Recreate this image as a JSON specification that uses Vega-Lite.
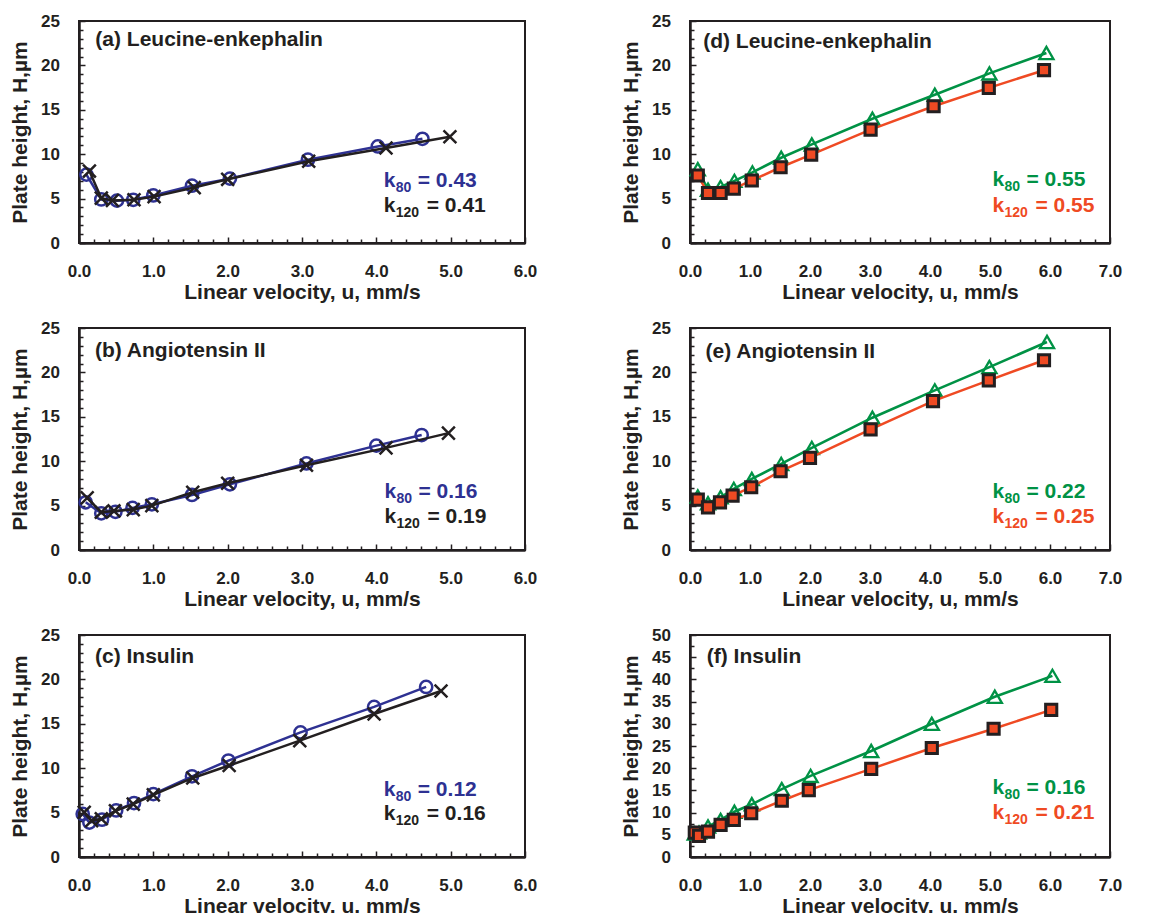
{
  "$schema": "https://vega.github.io/schema/vega-lite/v6.json",
  "background": "white",
  "padding": {"left": 8, "top": 11, "right": 5, "bottom": 5},
  "datasets": {
    "points": [
      {"panel": "a", "series": "80", "u": 0.10, "H": 7.7},
      {"panel": "a", "series": "80", "u": 0.30, "H": 4.9},
      {"panel": "a", "series": "80", "u": 0.51, "H": 4.77},
      {"panel": "a", "series": "80", "u": 0.73, "H": 4.87},
      {"panel": "a", "series": "80", "u": 1.00, "H": 5.35},
      {"panel": "a", "series": "80", "u": 1.52, "H": 6.45},
      {"panel": "a", "series": "80", "u": 2.03, "H": 7.25},
      {"panel": "a", "series": "80", "u": 3.08, "H": 9.38},
      {"panel": "a", "series": "80", "u": 4.02, "H": 10.87},
      {"panel": "a", "series": "80", "u": 4.62, "H": 11.73},
      {"panel": "a", "series": "120", "u": 0.14, "H": 8.1},
      {"panel": "a", "series": "120", "u": 0.30, "H": 5.05},
      {"panel": "a", "series": "120", "u": 0.45, "H": 4.8},
      {"panel": "a", "series": "120", "u": 0.74, "H": 4.87},
      {"panel": "a", "series": "120", "u": 1.01, "H": 5.22},
      {"panel": "a", "series": "120", "u": 1.55, "H": 6.24},
      {"panel": "a", "series": "120", "u": 2.00, "H": 7.17},
      {"panel": "a", "series": "120", "u": 3.09, "H": 9.2},
      {"panel": "a", "series": "120", "u": 4.13, "H": 10.7},
      {"panel": "a", "series": "120", "u": 4.99, "H": 11.96},

      {"panel": "b", "series": "80", "u": 0.09, "H": 5.37},
      {"panel": "b", "series": "80", "u": 0.30, "H": 4.13},
      {"panel": "b", "series": "80", "u": 0.49, "H": 4.3},
      {"panel": "b", "series": "80", "u": 0.72, "H": 4.74},
      {"panel": "b", "series": "80", "u": 0.98, "H": 5.15},
      {"panel": "b", "series": "80", "u": 1.52, "H": 6.2},
      {"panel": "b", "series": "80", "u": 2.03, "H": 7.4},
      {"panel": "b", "series": "80", "u": 3.06, "H": 9.75},
      {"panel": "b", "series": "80", "u": 4.00, "H": 11.75},
      {"panel": "b", "series": "80", "u": 4.61, "H": 12.95},
      {"panel": "b", "series": "120", "u": 0.11, "H": 5.87},
      {"panel": "b", "series": "120", "u": 0.30, "H": 4.25},
      {"panel": "b", "series": "120", "u": 0.47, "H": 4.4},
      {"panel": "b", "series": "120", "u": 0.73, "H": 4.55},
      {"panel": "b", "series": "120", "u": 0.98, "H": 5.0},
      {"panel": "b", "series": "120", "u": 1.53, "H": 6.5},
      {"panel": "b", "series": "120", "u": 2.00, "H": 7.52},
      {"panel": "b", "series": "120", "u": 3.06, "H": 9.55},
      {"panel": "b", "series": "120", "u": 4.13, "H": 11.5},
      {"panel": "b", "series": "120", "u": 4.97, "H": 13.16},

      {"panel": "c", "series": "80", "u": 0.05, "H": 4.85},
      {"panel": "c", "series": "80", "u": 0.14, "H": 3.88},
      {"panel": "c", "series": "80", "u": 0.31, "H": 4.2},
      {"panel": "c", "series": "80", "u": 0.50, "H": 5.24},
      {"panel": "c", "series": "80", "u": 0.74, "H": 6.08},
      {"panel": "c", "series": "80", "u": 1.00, "H": 7.08},
      {"panel": "c", "series": "80", "u": 1.52, "H": 9.09},
      {"panel": "c", "series": "80", "u": 2.01, "H": 10.86},
      {"panel": "c", "series": "80", "u": 2.98, "H": 14.03},
      {"panel": "c", "series": "80", "u": 3.97, "H": 16.9},
      {"panel": "c", "series": "80", "u": 4.67, "H": 19.15},
      {"panel": "c", "series": "120", "u": 0.07, "H": 5.03},
      {"panel": "c", "series": "120", "u": 0.17, "H": 4.08},
      {"panel": "c", "series": "120", "u": 0.30, "H": 4.3},
      {"panel": "c", "series": "120", "u": 0.49, "H": 5.2},
      {"panel": "c", "series": "120", "u": 0.73, "H": 5.95},
      {"panel": "c", "series": "120", "u": 1.00, "H": 7.0},
      {"panel": "c", "series": "120", "u": 1.53, "H": 8.9},
      {"panel": "c", "series": "120", "u": 2.02, "H": 10.3},
      {"panel": "c", "series": "120", "u": 2.97, "H": 13.1},
      {"panel": "c", "series": "120", "u": 3.97, "H": 16.1},
      {"panel": "c", "series": "120", "u": 4.87, "H": 18.7},

      {"panel": "d", "series": "80", "u": 0.13, "H": 8.3},
      {"panel": "d", "series": "80", "u": 0.30, "H": 6.0},
      {"panel": "d", "series": "80", "u": 0.51, "H": 6.3},
      {"panel": "d", "series": "80", "u": 0.74, "H": 7.0},
      {"panel": "d", "series": "80", "u": 1.04, "H": 7.95},
      {"panel": "d", "series": "80", "u": 1.52, "H": 9.6},
      {"panel": "d", "series": "80", "u": 2.03, "H": 11.1},
      {"panel": "d", "series": "80", "u": 3.04, "H": 14.0},
      {"panel": "d", "series": "80", "u": 4.08, "H": 16.7},
      {"panel": "d", "series": "80", "u": 4.99, "H": 19.1},
      {"panel": "d", "series": "80", "u": 5.94, "H": 21.4},
      {"panel": "d", "series": "120", "u": 0.13, "H": 7.6},
      {"panel": "d", "series": "120", "u": 0.30, "H": 5.63},
      {"panel": "d", "series": "120", "u": 0.51, "H": 5.63},
      {"panel": "d", "series": "120", "u": 0.73, "H": 6.12},
      {"panel": "d", "series": "120", "u": 1.03, "H": 7.04},
      {"panel": "d", "series": "120", "u": 1.51, "H": 8.53},
      {"panel": "d", "series": "120", "u": 2.02, "H": 9.96},
      {"panel": "d", "series": "120", "u": 3.01, "H": 12.77},
      {"panel": "d", "series": "120", "u": 4.06, "H": 15.4},
      {"panel": "d", "series": "120", "u": 4.98, "H": 17.47},
      {"panel": "d", "series": "120", "u": 5.90, "H": 19.46},

      {"panel": "e", "series": "80", "u": 0.13, "H": 6.02},
      {"panel": "e", "series": "80", "u": 0.30, "H": 5.26},
      {"panel": "e", "series": "80", "u": 0.51, "H": 5.94},
      {"panel": "e", "series": "80", "u": 0.73, "H": 6.88},
      {"panel": "e", "series": "80", "u": 1.03, "H": 8.0},
      {"panel": "e", "series": "80", "u": 1.52, "H": 9.7},
      {"panel": "e", "series": "80", "u": 2.03, "H": 11.5},
      {"panel": "e", "series": "80", "u": 3.04, "H": 14.9},
      {"panel": "e", "series": "80", "u": 4.08, "H": 17.98},
      {"panel": "e", "series": "80", "u": 4.99, "H": 20.6},
      {"panel": "e", "series": "80", "u": 5.95, "H": 23.43},
      {"panel": "e", "series": "120", "u": 0.13, "H": 5.68},
      {"panel": "e", "series": "120", "u": 0.30, "H": 4.81},
      {"panel": "e", "series": "120", "u": 0.50, "H": 5.37},
      {"panel": "e", "series": "120", "u": 0.71, "H": 6.13},
      {"panel": "e", "series": "120", "u": 1.02, "H": 7.07},
      {"panel": "e", "series": "120", "u": 1.51, "H": 8.87},
      {"panel": "e", "series": "120", "u": 2.00, "H": 10.38},
      {"panel": "e", "series": "120", "u": 3.01, "H": 13.58},
      {"panel": "e", "series": "120", "u": 4.05, "H": 16.77},
      {"panel": "e", "series": "120", "u": 4.98, "H": 19.11},
      {"panel": "e", "series": "120", "u": 5.90, "H": 21.37},

      {"panel": "f", "series": "80", "u": 0.08, "H": 5.3},
      {"panel": "f", "series": "80", "u": 0.15, "H": 5.5},
      {"panel": "f", "series": "80", "u": 0.30, "H": 6.86},
      {"panel": "f", "series": "80", "u": 0.51, "H": 8.35},
      {"panel": "f", "series": "80", "u": 0.74, "H": 10.2},
      {"panel": "f", "series": "80", "u": 1.03, "H": 11.87},
      {"panel": "f", "series": "80", "u": 1.53, "H": 15.3},
      {"panel": "f", "series": "80", "u": 2.01, "H": 18.27},
      {"panel": "f", "series": "80", "u": 3.02, "H": 23.87},
      {"panel": "f", "series": "80", "u": 4.03, "H": 30.0},
      {"panel": "f", "series": "80", "u": 5.08, "H": 36.1},
      {"panel": "f", "series": "80", "u": 6.04, "H": 40.8},
      {"panel": "f", "series": "120", "u": 0.08, "H": 5.5},
      {"panel": "f", "series": "120", "u": 0.15, "H": 4.77},
      {"panel": "f", "series": "120", "u": 0.30, "H": 5.73},
      {"panel": "f", "series": "120", "u": 0.51, "H": 7.23},
      {"panel": "f", "series": "120", "u": 0.73, "H": 8.35},
      {"panel": "f", "series": "120", "u": 1.02, "H": 9.85},
      {"panel": "f", "series": "120", "u": 1.53, "H": 12.67},
      {"panel": "f", "series": "120", "u": 1.98, "H": 15.07},
      {"panel": "f", "series": "120", "u": 3.02, "H": 19.85},
      {"panel": "f", "series": "120", "u": 4.03, "H": 24.55},
      {"panel": "f", "series": "120", "u": 5.06, "H": 28.88},
      {"panel": "f", "series": "120", "u": 6.02, "H": 33.13}
    ],
    "notes": [
      {"panel": "a", "series": "80", "u": 4.1, "H": 6.34, "sub": "80", "val": "= 0.43"},
      {"panel": "a", "series": "120", "u": 4.1, "H": 3.47, "sub": "120", "val": "= 0.41"},
      {"panel": "b", "series": "80", "u": 4.11, "H": 5.87, "sub": "80", "val": "= 0.16"},
      {"panel": "b", "series": "120", "u": 4.11, "H": 3.0, "sub": "120", "val": "= 0.19"},
      {"panel": "c", "series": "80", "u": 4.1, "H": 6.92, "sub": "80", "val": "= 0.12"},
      {"panel": "c", "series": "120", "u": 4.1, "H": 4.12, "sub": "120", "val": "= 0.16"},
      {"panel": "d", "series": "80", "u": 5.04, "H": 6.38, "sub": "80", "val": "= 0.55"},
      {"panel": "d", "series": "120", "u": 5.04, "H": 3.5, "sub": "120", "val": "= 0.55"},
      {"panel": "e", "series": "80", "u": 5.04, "H": 5.87, "sub": "80", "val": "= 0.22"},
      {"panel": "e", "series": "120", "u": 5.04, "H": 3.0, "sub": "120", "val": "= 0.25"},
      {"panel": "f", "series": "80", "u": 5.04, "H": 14.3, "sub": "80", "val": "= 0.16"},
      {"panel": "f", "series": "120", "u": 5.04, "H": 8.5, "sub": "120", "val": "= 0.21"}
    ]
  },
  "bounds": "flush",
  "columns": 2,
  "spacing": {"row": 85, "column": 165},
  "concat": [
    {
      "width": 446, "height": 222,
      "resolve": {"axis": {"x": "independent", "y": "independent"}},
      "layer": [
        {
          "data": {"name": "points"},
          "transform": [{"filter": "datum.panel === 'a'"}],
          "mark": {"type": "point", "opacity": 0},
          "encoding": {
            "x": {"field": "u", "type": "quantitative", "scale": {"domain": [0, 6], "nice": false, "zero": false},
                  "axis": {"orient": "bottom", "values": [0.2,0.4,0.6,0.8,1.2,1.4,1.6,1.8,2.2,2.4,2.6,2.8,3.2,3.4,3.6,3.8,4.2,4.4,4.6,4.8,5.2,5.4,5.6,5.8], "labels": false, "domain": false, "tickSize": -4, "title": null}},
            "y": {"field": "H", "type": "quantitative", "scale": {"domain": [0, 25], "nice": false, "zero": false},
                  "axis": {"orient": "left", "values": [1,2,3,4,6,7,8,9,11,12,13,14,16,17,18,19,21,22,23,24], "labels": false, "domain": false, "tickSize": -4, "title": null}}
          }
        },
        {
          "data": {"name": "points"},
          "transform": [{"filter": "datum.panel === 'a' && datum.series === '80'"}],
          "mark": {"type": "line", "color": "#2E3192", "strokeWidth": 2.5},
          "encoding": {
            "x": {"field": "u", "type": "quantitative", "axis": {"orient": "bottom", "values": [0,1,2,3,4,5,6], "format": ".1f", "tickSize": -6, "labelPadding": 26, "title": "Linear velocity, u, mm/s", "titlePadding": 2}},
            "y": {"field": "H", "type": "quantitative", "axis": {"orient": "left", "values": [0,5,10,15,20,25], "format": "d", "tickSize": -6, "labelPadding": 25.5, "title": "Plate height, H,µm", "titlePadding": 10}}
          }
        },
        {
          "data": {"name": "points"},
          "transform": [{"filter": "datum.panel === 'a' && datum.series === '80'"}],
          "mark": {"type": "point", "shape": "circle", "size": 150, "filled": false, "color": "#2E3192", "strokeWidth": 2.5, "opacity": 1},
          "encoding": {"x": {"field": "u", "type": "quantitative", "axis": null}, "y": {"field": "H", "type": "quantitative", "axis": null}}
        },
        {
          "data": {"name": "points"},
          "transform": [{"filter": "datum.panel === 'a' && datum.series === '120'"}],
          "mark": {"type": "line", "color": "#231F20", "strokeWidth": 2.5},
          "encoding": {"x": {"field": "u", "type": "quantitative", "axis": null}, "y": {"field": "H", "type": "quantitative", "axis": null}}
        },
        {
          "data": {"name": "points"},
          "transform": [{"filter": "datum.panel === 'a' && datum.series === '120'"}],
          "mark": {"type": "point", "shape": "M-1,-1L1,1M-1,1L1,-1", "size": 165, "filled": false, "color": "#231F20", "strokeWidth": 2.5, "opacity": 1},
          "encoding": {"x": {"field": "u", "type": "quantitative", "axis": null}, "y": {"field": "H", "type": "quantitative", "axis": null}}
        },
        {
          "data": {"values": [{}]},
          "mark": {"type": "text", "text": "(a) Leucine-enkephalin", "align": "left", "baseline": "alphabetic", "fontSize": 21, "color": "#231F20"},
          "encoding": {"x": {"datum": 0.22, "type": "quantitative", "axis": null}, "y": {"datum": 22.2, "type": "quantitative", "axis": null}}
        },
        {
          "data": {"name": "notes"},
          "transform": [{"filter": "datum.panel === 'a'"}],
          "mark": {"type": "text", "text": "k", "align": "left", "baseline": "alphabetic", "fontSize": 21},
          "encoding": {"x": {"field": "u", "type": "quantitative", "axis": null}, "y": {"field": "H", "type": "quantitative", "axis": null},
                       "color": {"condition": {"test": "datum.series === '80'", "value": "#2E3192"}, "value": "#231F20"}}
        },
        {
          "data": {"name": "notes"},
          "transform": [{"filter": "datum.panel === 'a'"}],
          "mark": {"type": "text", "align": "left", "baseline": "alphabetic", "fontSize": 14, "dx": 12, "dy": 5},
          "encoding": {"x": {"field": "u", "type": "quantitative", "axis": null}, "y": {"field": "H", "type": "quantitative", "axis": null}, "text": {"field": "sub"},
                       "color": {"condition": {"test": "datum.series === '80'", "value": "#2E3192"}, "value": "#231F20"}}
        },
        {
          "data": {"name": "notes"},
          "transform": [{"filter": "datum.panel === 'a' && datum.series === '80'"}],
          "mark": {"type": "text", "align": "left", "baseline": "alphabetic", "fontSize": 21, "dx": 34, "color": "#2E3192"},
          "encoding": {"x": {"field": "u", "type": "quantitative", "axis": null}, "y": {"field": "H", "type": "quantitative", "axis": null}, "text": {"field": "val"}}
        },
        {
          "data": {"name": "notes"},
          "transform": [{"filter": "datum.panel === 'a' && datum.series === '120'"}],
          "mark": {"type": "text", "align": "left", "baseline": "alphabetic", "fontSize": 21, "dx": 43, "color": "#231F20"},
          "encoding": {"x": {"field": "u", "type": "quantitative", "axis": null}, "y": {"field": "H", "type": "quantitative", "axis": null}, "text": {"field": "val"}}
        }
      ]
    },
    {
      "width": 420, "height": 222,
      "resolve": {"axis": {"x": "independent", "y": "independent"}},
      "layer": [
        {
          "data": {"name": "points"},
          "transform": [{"filter": "datum.panel === 'd'"}],
          "mark": {"type": "point", "opacity": 0},
          "encoding": {
            "x": {"field": "u", "type": "quantitative", "scale": {"domain": [0, 7], "nice": false, "zero": false},
                  "axis": {"orient": "bottom", "values": [0.25,0.5,0.75,1.25,1.5,1.75,2.25,2.5,2.75,3.25,3.5,3.75,4.25,4.5,4.75,5.25,5.5,5.75,6.25,6.5,6.75], "labels": false, "domain": false, "tickSize": -4, "title": null}},
            "y": {"field": "H", "type": "quantitative", "scale": {"domain": [0, 25], "nice": false, "zero": false},
                  "axis": {"orient": "left", "values": [1,2,3,4,6,7,8,9,11,12,13,14,16,17,18,19,21,22,23,24], "labels": false, "domain": false, "tickSize": -4, "title": null}}
          }
        },
        {
          "data": {"name": "points"},
          "transform": [{"filter": "datum.panel === 'd' && datum.series === '80'"}],
          "mark": {"type": "line", "color": "#009245", "strokeWidth": 2.6},
          "encoding": {
            "x": {"field": "u", "type": "quantitative", "axis": {"orient": "bottom", "values": [0,1,2,3,4,5,6,7], "format": ".1f", "tickSize": -6, "labelPadding": 26, "title": "Linear velocity, u, mm/s", "titlePadding": 2}},
            "y": {"field": "H", "type": "quantitative", "axis": {"orient": "left", "values": [0,5,10,15,20,25], "format": "d", "tickSize": -6, "labelPadding": 25.5, "title": "Plate height, H,µm", "titlePadding": 10}}
          }
        },
        {
          "data": {"name": "points"},
          "transform": [{"filter": "datum.panel === 'd' && datum.series === '80'"}],
          "mark": {"type": "point", "shape": "triangle-up", "size": 200, "filled": false, "color": "#009245", "strokeWidth": 2.3, "opacity": 1},
          "encoding": {"x": {"field": "u", "type": "quantitative", "axis": null}, "y": {"field": "H", "type": "quantitative", "axis": null}}
        },
        {
          "data": {"name": "points"},
          "transform": [{"filter": "datum.panel === 'd' && datum.series === '120'"}],
          "mark": {"type": "line", "color": "#EF4A23", "strokeWidth": 2.5},
          "encoding": {"x": {"field": "u", "type": "quantitative", "axis": null}, "y": {"field": "H", "type": "quantitative", "axis": null}}
        },
        {
          "data": {"name": "points"},
          "transform": [{"filter": "datum.panel === 'd' && datum.series === '120'"}],
          "mark": {"type": "point", "shape": "square", "size": 125, "filled": true, "fill": "#EF4A23", "stroke": "#231F20", "strokeWidth": 3, "opacity": 1},
          "encoding": {"x": {"field": "u", "type": "quantitative", "axis": null}, "y": {"field": "H", "type": "quantitative", "axis": null}}
        },
        {
          "data": {"values": [{}]},
          "mark": {"type": "text", "text": "(d) Leucine-enkephalin", "align": "left", "baseline": "alphabetic", "fontSize": 21, "color": "#231F20"},
          "encoding": {"x": {"datum": 0.22, "type": "quantitative", "axis": null}, "y": {"datum": 22.0, "type": "quantitative", "axis": null}}
        },
        {
          "data": {"name": "notes"},
          "transform": [{"filter": "datum.panel === 'd'"}],
          "mark": {"type": "text", "text": "k", "align": "left", "baseline": "alphabetic", "fontSize": 21},
          "encoding": {"x": {"field": "u", "type": "quantitative", "axis": null}, "y": {"field": "H", "type": "quantitative", "axis": null},
                       "color": {"condition": {"test": "datum.series === '80'", "value": "#009245"}, "value": "#EF4A23"}}
        },
        {
          "data": {"name": "notes"},
          "transform": [{"filter": "datum.panel === 'd'"}],
          "mark": {"type": "text", "align": "left", "baseline": "alphabetic", "fontSize": 14, "dx": 12, "dy": 5},
          "encoding": {"x": {"field": "u", "type": "quantitative", "axis": null}, "y": {"field": "H", "type": "quantitative", "axis": null}, "text": {"field": "sub"},
                       "color": {"condition": {"test": "datum.series === '80'", "value": "#009245"}, "value": "#EF4A23"}}
        },
        {
          "data": {"name": "notes"},
          "transform": [{"filter": "datum.panel === 'd' && datum.series === '80'"}],
          "mark": {"type": "text", "align": "left", "baseline": "alphabetic", "fontSize": 21, "dx": 34, "color": "#009245"},
          "encoding": {"x": {"field": "u", "type": "quantitative", "axis": null}, "y": {"field": "H", "type": "quantitative", "axis": null}, "text": {"field": "val"}}
        },
        {
          "data": {"name": "notes"},
          "transform": [{"filter": "datum.panel === 'd' && datum.series === '120'"}],
          "mark": {"type": "text", "align": "left", "baseline": "alphabetic", "fontSize": 21, "dx": 43, "color": "#EF4A23"},
          "encoding": {"x": {"field": "u", "type": "quantitative", "axis": null}, "y": {"field": "H", "type": "quantitative", "axis": null}, "text": {"field": "val"}}
        }
      ]
    },
    {
      "width": 446, "height": 222,
      "resolve": {"axis": {"x": "independent", "y": "independent"}},
      "layer": [
        {
          "data": {"name": "points"},
          "transform": [{"filter": "datum.panel === 'b'"}],
          "mark": {"type": "point", "opacity": 0},
          "encoding": {
            "x": {"field": "u", "type": "quantitative", "scale": {"domain": [0, 6], "nice": false, "zero": false},
                  "axis": {"orient": "bottom", "values": [0.2,0.4,0.6,0.8,1.2,1.4,1.6,1.8,2.2,2.4,2.6,2.8,3.2,3.4,3.6,3.8,4.2,4.4,4.6,4.8,5.2,5.4,5.6,5.8], "labels": false, "domain": false, "tickSize": -4, "title": null}},
            "y": {"field": "H", "type": "quantitative", "scale": {"domain": [0, 25], "nice": false, "zero": false},
                  "axis": {"orient": "left", "values": [1,2,3,4,6,7,8,9,11,12,13,14,16,17,18,19,21,22,23,24], "labels": false, "domain": false, "tickSize": -4, "title": null}}
          }
        },
        {
          "data": {"name": "points"},
          "transform": [{"filter": "datum.panel === 'b' && datum.series === '80'"}],
          "mark": {"type": "line", "color": "#2E3192", "strokeWidth": 2.5},
          "encoding": {
            "x": {"field": "u", "type": "quantitative", "axis": {"orient": "bottom", "values": [0,1,2,3,4,5,6], "format": ".1f", "tickSize": -6, "labelPadding": 26, "title": "Linear velocity, u, mm/s", "titlePadding": 2}},
            "y": {"field": "H", "type": "quantitative", "axis": {"orient": "left", "values": [0,5,10,15,20,25], "format": "d", "tickSize": -6, "labelPadding": 25.5, "title": "Plate height, H,µm", "titlePadding": 10}}
          }
        },
        {
          "data": {"name": "points"},
          "transform": [{"filter": "datum.panel === 'b' && datum.series === '80'"}],
          "mark": {"type": "point", "shape": "circle", "size": 150, "filled": false, "color": "#2E3192", "strokeWidth": 2.5, "opacity": 1},
          "encoding": {"x": {"field": "u", "type": "quantitative", "axis": null}, "y": {"field": "H", "type": "quantitative", "axis": null}}
        },
        {
          "data": {"name": "points"},
          "transform": [{"filter": "datum.panel === 'b' && datum.series === '120'"}],
          "mark": {"type": "line", "color": "#231F20", "strokeWidth": 2.5},
          "encoding": {"x": {"field": "u", "type": "quantitative", "axis": null}, "y": {"field": "H", "type": "quantitative", "axis": null}}
        },
        {
          "data": {"name": "points"},
          "transform": [{"filter": "datum.panel === 'b' && datum.series === '120'"}],
          "mark": {"type": "point", "shape": "M-1,-1L1,1M-1,1L1,-1", "size": 165, "filled": false, "color": "#231F20", "strokeWidth": 2.5, "opacity": 1},
          "encoding": {"x": {"field": "u", "type": "quantitative", "axis": null}, "y": {"field": "H", "type": "quantitative", "axis": null}}
        },
        {
          "data": {"values": [{}]},
          "mark": {"type": "text", "text": "(b) Angiotensin II", "align": "left", "baseline": "alphabetic", "fontSize": 21, "color": "#231F20"},
          "encoding": {"x": {"datum": 0.215, "type": "quantitative", "axis": null}, "y": {"datum": 21.75, "type": "quantitative", "axis": null}}
        },
        {
          "data": {"name": "notes"},
          "transform": [{"filter": "datum.panel === 'b'"}],
          "mark": {"type": "text", "text": "k", "align": "left", "baseline": "alphabetic", "fontSize": 21},
          "encoding": {"x": {"field": "u", "type": "quantitative", "axis": null}, "y": {"field": "H", "type": "quantitative", "axis": null},
                       "color": {"condition": {"test": "datum.series === '80'", "value": "#2E3192"}, "value": "#231F20"}}
        },
        {
          "data": {"name": "notes"},
          "transform": [{"filter": "datum.panel === 'b'"}],
          "mark": {"type": "text", "align": "left", "baseline": "alphabetic", "fontSize": 14, "dx": 12, "dy": 5},
          "encoding": {"x": {"field": "u", "type": "quantitative", "axis": null}, "y": {"field": "H", "type": "quantitative", "axis": null}, "text": {"field": "sub"},
                       "color": {"condition": {"test": "datum.series === '80'", "value": "#2E3192"}, "value": "#231F20"}}
        },
        {
          "data": {"name": "notes"},
          "transform": [{"filter": "datum.panel === 'b' && datum.series === '80'"}],
          "mark": {"type": "text", "align": "left", "baseline": "alphabetic", "fontSize": 21, "dx": 34, "color": "#2E3192"},
          "encoding": {"x": {"field": "u", "type": "quantitative", "axis": null}, "y": {"field": "H", "type": "quantitative", "axis": null}, "text": {"field": "val"}}
        },
        {
          "data": {"name": "notes"},
          "transform": [{"filter": "datum.panel === 'b' && datum.series === '120'"}],
          "mark": {"type": "text", "align": "left", "baseline": "alphabetic", "fontSize": 21, "dx": 43, "color": "#231F20"},
          "encoding": {"x": {"field": "u", "type": "quantitative", "axis": null}, "y": {"field": "H", "type": "quantitative", "axis": null}, "text": {"field": "val"}}
        }
      ]
    },
    {
      "width": 420, "height": 222,
      "resolve": {"axis": {"x": "independent", "y": "independent"}},
      "layer": [
        {
          "data": {"name": "points"},
          "transform": [{"filter": "datum.panel === 'e'"}],
          "mark": {"type": "point", "opacity": 0},
          "encoding": {
            "x": {"field": "u", "type": "quantitative", "scale": {"domain": [0, 7], "nice": false, "zero": false},
                  "axis": {"orient": "bottom", "values": [0.25,0.5,0.75,1.25,1.5,1.75,2.25,2.5,2.75,3.25,3.5,3.75,4.25,4.5,4.75,5.25,5.5,5.75,6.25,6.5,6.75], "labels": false, "domain": false, "tickSize": -4, "title": null}},
            "y": {"field": "H", "type": "quantitative", "scale": {"domain": [0, 25], "nice": false, "zero": false},
                  "axis": {"orient": "left", "values": [1,2,3,4,6,7,8,9,11,12,13,14,16,17,18,19,21,22,23,24], "labels": false, "domain": false, "tickSize": -4, "title": null}}
          }
        },
        {
          "data": {"name": "points"},
          "transform": [{"filter": "datum.panel === 'e' && datum.series === '80'"}],
          "mark": {"type": "line", "color": "#009245", "strokeWidth": 2.6},
          "encoding": {
            "x": {"field": "u", "type": "quantitative", "axis": {"orient": "bottom", "values": [0,1,2,3,4,5,6,7], "format": ".1f", "tickSize": -6, "labelPadding": 26, "title": "Linear velocity, u, mm/s", "titlePadding": 2}},
            "y": {"field": "H", "type": "quantitative", "axis": {"orient": "left", "values": [0,5,10,15,20,25], "format": "d", "tickSize": -6, "labelPadding": 25.5, "title": "Plate height, H,µm", "titlePadding": 10}}
          }
        },
        {
          "data": {"name": "points"},
          "transform": [{"filter": "datum.panel === 'e' && datum.series === '80'"}],
          "mark": {"type": "point", "shape": "triangle-up", "size": 200, "filled": false, "color": "#009245", "strokeWidth": 2.3, "opacity": 1},
          "encoding": {"x": {"field": "u", "type": "quantitative", "axis": null}, "y": {"field": "H", "type": "quantitative", "axis": null}}
        },
        {
          "data": {"name": "points"},
          "transform": [{"filter": "datum.panel === 'e' && datum.series === '120'"}],
          "mark": {"type": "line", "color": "#EF4A23", "strokeWidth": 2.5},
          "encoding": {"x": {"field": "u", "type": "quantitative", "axis": null}, "y": {"field": "H", "type": "quantitative", "axis": null}}
        },
        {
          "data": {"name": "points"},
          "transform": [{"filter": "datum.panel === 'e' && datum.series === '120'"}],
          "mark": {"type": "point", "shape": "square", "size": 125, "filled": true, "fill": "#EF4A23", "stroke": "#231F20", "strokeWidth": 3, "opacity": 1},
          "encoding": {"x": {"field": "u", "type": "quantitative", "axis": null}, "y": {"field": "H", "type": "quantitative", "axis": null}}
        },
        {
          "data": {"values": [{}]},
          "mark": {"type": "text", "text": "(e) Angiotensin II", "align": "left", "baseline": "alphabetic", "fontSize": 21, "color": "#231F20"},
          "encoding": {"x": {"datum": 0.26, "type": "quantitative", "axis": null}, "y": {"datum": 21.65, "type": "quantitative", "axis": null}}
        },
        {
          "data": {"name": "notes"},
          "transform": [{"filter": "datum.panel === 'e'"}],
          "mark": {"type": "text", "text": "k", "align": "left", "baseline": "alphabetic", "fontSize": 21},
          "encoding": {"x": {"field": "u", "type": "quantitative", "axis": null}, "y": {"field": "H", "type": "quantitative", "axis": null},
                       "color": {"condition": {"test": "datum.series === '80'", "value": "#009245"}, "value": "#EF4A23"}}
        },
        {
          "data": {"name": "notes"},
          "transform": [{"filter": "datum.panel === 'e'"}],
          "mark": {"type": "text", "align": "left", "baseline": "alphabetic", "fontSize": 14, "dx": 12, "dy": 5},
          "encoding": {"x": {"field": "u", "type": "quantitative", "axis": null}, "y": {"field": "H", "type": "quantitative", "axis": null}, "text": {"field": "sub"},
                       "color": {"condition": {"test": "datum.series === '80'", "value": "#009245"}, "value": "#EF4A23"}}
        },
        {
          "data": {"name": "notes"},
          "transform": [{"filter": "datum.panel === 'e' && datum.series === '80'"}],
          "mark": {"type": "text", "align": "left", "baseline": "alphabetic", "fontSize": 21, "dx": 34, "color": "#009245"},
          "encoding": {"x": {"field": "u", "type": "quantitative", "axis": null}, "y": {"field": "H", "type": "quantitative", "axis": null}, "text": {"field": "val"}}
        },
        {
          "data": {"name": "notes"},
          "transform": [{"filter": "datum.panel === 'e' && datum.series === '120'"}],
          "mark": {"type": "text", "align": "left", "baseline": "alphabetic", "fontSize": 21, "dx": 43, "color": "#EF4A23"},
          "encoding": {"x": {"field": "u", "type": "quantitative", "axis": null}, "y": {"field": "H", "type": "quantitative", "axis": null}, "text": {"field": "val"}}
        }
      ]
    },
    {
      "width": 446, "height": 222,
      "resolve": {"axis": {"x": "independent", "y": "independent"}},
      "layer": [
        {
          "data": {"name": "points"},
          "transform": [{"filter": "datum.panel === 'c'"}],
          "mark": {"type": "point", "opacity": 0},
          "encoding": {
            "x": {"field": "u", "type": "quantitative", "scale": {"domain": [0, 6], "nice": false, "zero": false},
                  "axis": {"orient": "bottom", "values": [0.2,0.4,0.6,0.8,1.2,1.4,1.6,1.8,2.2,2.4,2.6,2.8,3.2,3.4,3.6,3.8,4.2,4.4,4.6,4.8,5.2,5.4,5.6,5.8], "labels": false, "domain": false, "tickSize": -4, "title": null}},
            "y": {"field": "H", "type": "quantitative", "scale": {"domain": [0, 25], "nice": false, "zero": false},
                  "axis": {"orient": "left", "values": [1,2,3,4,6,7,8,9,11,12,13,14,16,17,18,19,21,22,23,24], "labels": false, "domain": false, "tickSize": -4, "title": null}}
          }
        },
        {
          "data": {"name": "points"},
          "transform": [{"filter": "datum.panel === 'c' && datum.series === '80'"}],
          "mark": {"type": "line", "color": "#2E3192", "strokeWidth": 2.5},
          "encoding": {
            "x": {"field": "u", "type": "quantitative", "axis": {"orient": "bottom", "values": [0,1,2,3,4,5,6], "format": ".1f", "tickSize": -6, "labelPadding": 26, "title": "Linear velocity, u, mm/s", "titlePadding": 2}},
            "y": {"field": "H", "type": "quantitative", "axis": {"orient": "left", "values": [0,5,10,15,20,25], "format": "d", "tickSize": -6, "labelPadding": 25.5, "title": "Plate height, H,µm", "titlePadding": 10}}
          }
        },
        {
          "data": {"name": "points"},
          "transform": [{"filter": "datum.panel === 'c' && datum.series === '80'"}],
          "mark": {"type": "point", "shape": "circle", "size": 150, "filled": false, "color": "#2E3192", "strokeWidth": 2.5, "opacity": 1},
          "encoding": {"x": {"field": "u", "type": "quantitative", "axis": null}, "y": {"field": "H", "type": "quantitative", "axis": null}}
        },
        {
          "data": {"name": "points"},
          "transform": [{"filter": "datum.panel === 'c' && datum.series === '120'"}],
          "mark": {"type": "line", "color": "#231F20", "strokeWidth": 2.5},
          "encoding": {"x": {"field": "u", "type": "quantitative", "axis": null}, "y": {"field": "H", "type": "quantitative", "axis": null}}
        },
        {
          "data": {"name": "points"},
          "transform": [{"filter": "datum.panel === 'c' && datum.series === '120'"}],
          "mark": {"type": "point", "shape": "M-1,-1L1,1M-1,1L1,-1", "size": 165, "filled": false, "color": "#231F20", "strokeWidth": 2.5, "opacity": 1},
          "encoding": {"x": {"field": "u", "type": "quantitative", "axis": null}, "y": {"field": "H", "type": "quantitative", "axis": null}}
        },
        {
          "data": {"values": [{}]},
          "mark": {"type": "text", "text": "(c) Insulin", "align": "left", "baseline": "alphabetic", "fontSize": 21, "color": "#231F20"},
          "encoding": {"x": {"datum": 0.215, "type": "quantitative", "axis": null}, "y": {"datum": 21.9, "type": "quantitative", "axis": null}}
        },
        {
          "data": {"name": "notes"},
          "transform": [{"filter": "datum.panel === 'c'"}],
          "mark": {"type": "text", "text": "k", "align": "left", "baseline": "alphabetic", "fontSize": 21},
          "encoding": {"x": {"field": "u", "type": "quantitative", "axis": null}, "y": {"field": "H", "type": "quantitative", "axis": null},
                       "color": {"condition": {"test": "datum.series === '80'", "value": "#2E3192"}, "value": "#231F20"}}
        },
        {
          "data": {"name": "notes"},
          "transform": [{"filter": "datum.panel === 'c'"}],
          "mark": {"type": "text", "align": "left", "baseline": "alphabetic", "fontSize": 14, "dx": 12, "dy": 5},
          "encoding": {"x": {"field": "u", "type": "quantitative", "axis": null}, "y": {"field": "H", "type": "quantitative", "axis": null}, "text": {"field": "sub"},
                       "color": {"condition": {"test": "datum.series === '80'", "value": "#2E3192"}, "value": "#231F20"}}
        },
        {
          "data": {"name": "notes"},
          "transform": [{"filter": "datum.panel === 'c' && datum.series === '80'"}],
          "mark": {"type": "text", "align": "left", "baseline": "alphabetic", "fontSize": 21, "dx": 34, "color": "#2E3192"},
          "encoding": {"x": {"field": "u", "type": "quantitative", "axis": null}, "y": {"field": "H", "type": "quantitative", "axis": null}, "text": {"field": "val"}}
        },
        {
          "data": {"name": "notes"},
          "transform": [{"filter": "datum.panel === 'c' && datum.series === '120'"}],
          "mark": {"type": "text", "align": "left", "baseline": "alphabetic", "fontSize": 21, "dx": 43, "color": "#231F20"},
          "encoding": {"x": {"field": "u", "type": "quantitative", "axis": null}, "y": {"field": "H", "type": "quantitative", "axis": null}, "text": {"field": "val"}}
        }
      ]
    },
    {
      "width": 420, "height": 222,
      "resolve": {"axis": {"x": "independent", "y": "independent"}},
      "layer": [
        {
          "data": {"name": "points"},
          "transform": [{"filter": "datum.panel === 'f'"}],
          "mark": {"type": "point", "opacity": 0},
          "encoding": {
            "x": {"field": "u", "type": "quantitative", "scale": {"domain": [0, 7], "nice": false, "zero": false},
                  "axis": {"orient": "bottom", "values": [0.25,0.5,0.75,1.25,1.5,1.75,2.25,2.5,2.75,3.25,3.5,3.75,4.25,4.5,4.75,5.25,5.5,5.75,6.25,6.5,6.75], "labels": false, "domain": false, "tickSize": -4, "title": null}},
            "y": {"field": "H", "type": "quantitative", "scale": {"domain": [0, 50], "nice": false, "zero": false},
                  "axis": {"orient": "left", "values": [2.5,7.5,12.5,17.5,22.5,27.5,32.5,37.5,42.5,47.5], "labels": false, "domain": false, "tickSize": -4, "title": null}}
          }
        },
        {
          "data": {"name": "points"},
          "transform": [{"filter": "datum.panel === 'f' && datum.series === '80'"}],
          "mark": {"type": "line", "color": "#009245", "strokeWidth": 2.6},
          "encoding": {
            "x": {"field": "u", "type": "quantitative", "axis": {"orient": "bottom", "values": [0,1,2,3,4,5,6,7], "format": ".1f", "tickSize": -6, "labelPadding": 26, "title": "Linear velocity, u, mm/s", "titlePadding": 2}},
            "y": {"field": "H", "type": "quantitative", "axis": {"orient": "left", "values": [0,5,10,15,20,25,30,35,40,45,50], "format": "d", "tickSize": -6, "labelPadding": 25.5, "title": "Plate height, H,µm", "titlePadding": 10}}
          }
        },
        {
          "data": {"name": "points"},
          "transform": [{"filter": "datum.panel === 'f' && datum.series === '80'"}],
          "mark": {"type": "point", "shape": "triangle-up", "size": 200, "filled": false, "color": "#009245", "strokeWidth": 2.3, "opacity": 1},
          "encoding": {"x": {"field": "u", "type": "quantitative", "axis": null}, "y": {"field": "H", "type": "quantitative", "axis": null}}
        },
        {
          "data": {"name": "points"},
          "transform": [{"filter": "datum.panel === 'f' && datum.series === '120'"}],
          "mark": {"type": "line", "color": "#EF4A23", "strokeWidth": 2.5},
          "encoding": {"x": {"field": "u", "type": "quantitative", "axis": null}, "y": {"field": "H", "type": "quantitative", "axis": null}}
        },
        {
          "data": {"name": "points"},
          "transform": [{"filter": "datum.panel === 'f' && datum.series === '120'"}],
          "mark": {"type": "point", "shape": "square", "size": 125, "filled": true, "fill": "#EF4A23", "stroke": "#231F20", "strokeWidth": 3, "opacity": 1},
          "encoding": {"x": {"field": "u", "type": "quantitative", "axis": null}, "y": {"field": "H", "type": "quantitative", "axis": null}}
        },
        {
          "data": {"values": [{}]},
          "mark": {"type": "text", "text": "(f) Insulin", "align": "left", "baseline": "alphabetic", "fontSize": 21, "color": "#231F20"},
          "encoding": {"x": {"datum": 0.28, "type": "quantitative", "axis": null}, "y": {"datum": 43.7, "type": "quantitative", "axis": null}}
        },
        {
          "data": {"name": "notes"},
          "transform": [{"filter": "datum.panel === 'f'"}],
          "mark": {"type": "text", "text": "k", "align": "left", "baseline": "alphabetic", "fontSize": 21},
          "encoding": {"x": {"field": "u", "type": "quantitative", "axis": null}, "y": {"field": "H", "type": "quantitative", "axis": null},
                       "color": {"condition": {"test": "datum.series === '80'", "value": "#009245"}, "value": "#EF4A23"}}
        },
        {
          "data": {"name": "notes"},
          "transform": [{"filter": "datum.panel === 'f'"}],
          "mark": {"type": "text", "align": "left", "baseline": "alphabetic", "fontSize": 14, "dx": 12, "dy": 5},
          "encoding": {"x": {"field": "u", "type": "quantitative", "axis": null}, "y": {"field": "H", "type": "quantitative", "axis": null}, "text": {"field": "sub"},
                       "color": {"condition": {"test": "datum.series === '80'", "value": "#009245"}, "value": "#EF4A23"}}
        },
        {
          "data": {"name": "notes"},
          "transform": [{"filter": "datum.panel === 'f' && datum.series === '80'"}],
          "mark": {"type": "text", "align": "left", "baseline": "alphabetic", "fontSize": 21, "dx": 34, "color": "#009245"},
          "encoding": {"x": {"field": "u", "type": "quantitative", "axis": null}, "y": {"field": "H", "type": "quantitative", "axis": null}, "text": {"field": "val"}}
        },
        {
          "data": {"name": "notes"},
          "transform": [{"filter": "datum.panel === 'f' && datum.series === '120'"}],
          "mark": {"type": "text", "align": "left", "baseline": "alphabetic", "fontSize": 21, "dx": 43, "color": "#EF4A23"},
          "encoding": {"x": {"field": "u", "type": "quantitative", "axis": null}, "y": {"field": "H", "type": "quantitative", "axis": null}, "text": {"field": "val"}}
        }
      ]
    }
  ],
  "config": {
    "font": "Liberation Sans",
    "view": {"stroke": "#231F20", "strokeWidth": 2},
    "axis": {
      "grid": false,
      "domainColor": "#231F20",
      "domainWidth": 2.5,
      "tickColor": "#231F20",
      "tickWidth": 1.5,
      "labelFont": "Liberation Sans",
      "labelFontWeight": "bold",
      "labelFontSize": 17,
      "labelColor": "#231F20",
      "labelFlush": false,
      "labelOverlap": false,
      "titleFont": "Liberation Sans",
      "titleFontWeight": "bold",
      "titleFontSize": 21,
      "titleColor": "#231F20"
    },
    "text": {"font": "Liberation Sans", "fontWeight": "bold"}
  }
}
